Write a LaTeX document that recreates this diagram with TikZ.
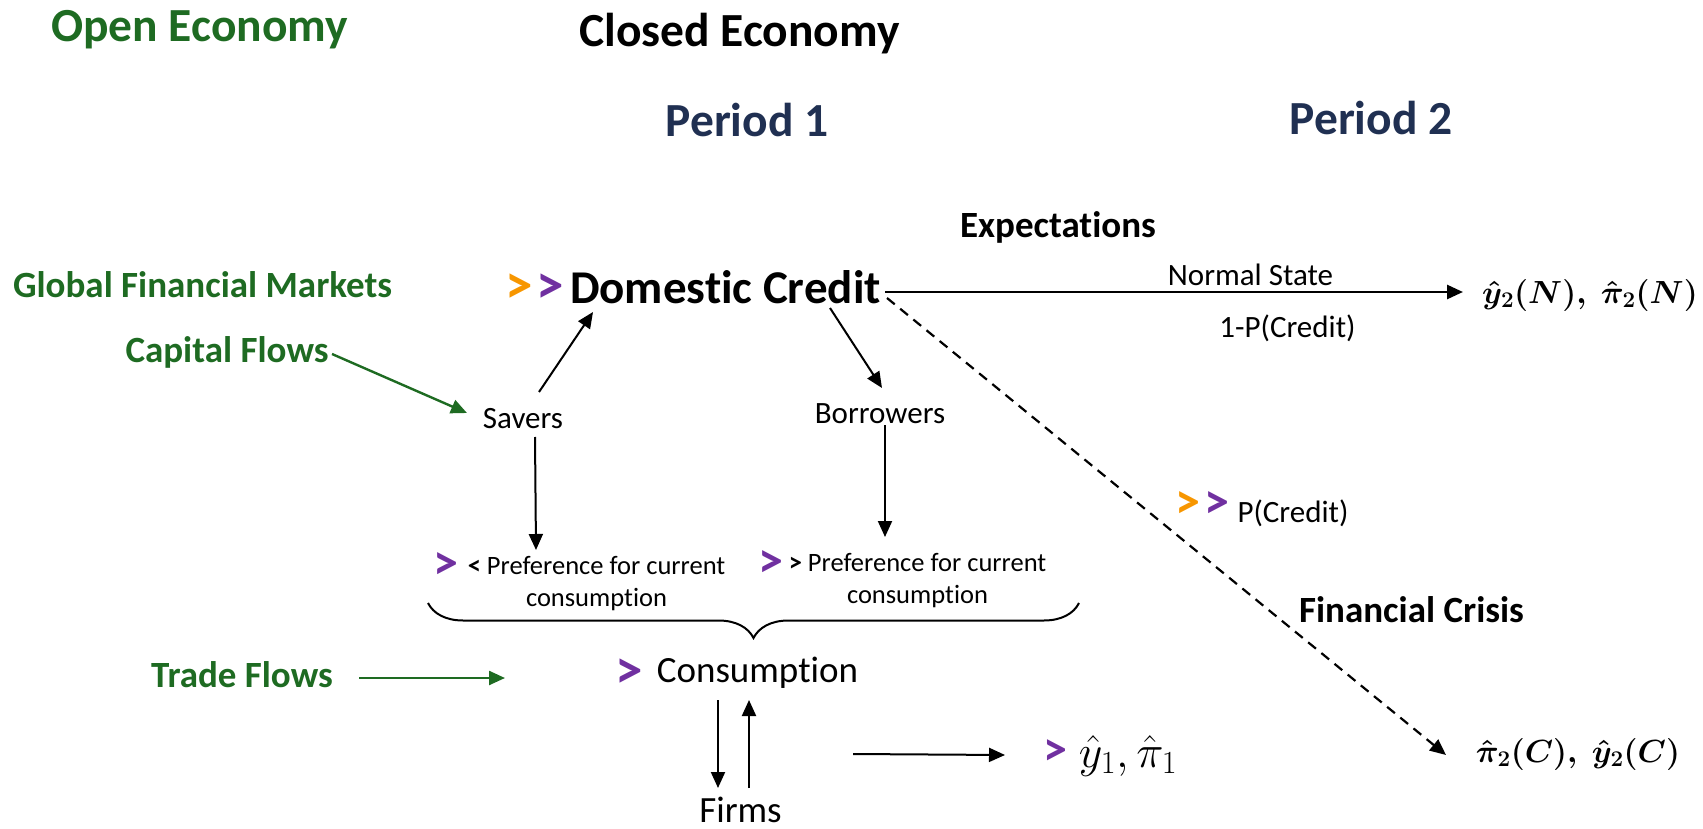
\RequirePackage{fix-cm}
\documentclass[tikz,border=0pt]{standalone}
\usepackage{amsmath}
\usepackage{amssymb}
\usepackage{fontspec}
\setmainfont{Carlito}[Ligatures=NoCommon]
\usepackage{tikz}
\usetikzlibrary{positioning,arrows.meta,decorations.pathreplacing}

\definecolor{openG}{RGB}{30,107,34}
\definecolor{perN}{RGB}{32,48,82}
\definecolor{chO}{RGB}{247,150,0}
\definecolor{chP}{RGB}{112,48,160}

\newcommand{\fsz}[1]{\fontsize{#1}{#1}\selectfont}

\tikzset{auto,
  every node/.style={inner sep=0pt, anchor=base},
  >={Triangle[length=16pt,width=14pt]},
  hd/.style={font=\fsz{47.5}\bfseries},
  ob/.style={font=\fsz{37}\bfseries, text=openG},
  bl/.style={font=\fsz{37}\bfseries},
  dcf/.style={font=\fsz{47}\bfseries},
  sm/.style={font=\fsz{31}},
  md/.style={font=\fsz{37}},
  pref/.style={font=\fontsize{26.5}{32}\selectfont, align=center},
  chev/.style={font=\fsz{#1}\bfseries},
  ar/.style={->, line width=2pt},
  gar/.style={->, line width=2.4pt, color=openG}
}

\begin{document}
\begin{tikzpicture}[x=1pt, y=-1pt]
             \useasboundingbox (0,0) rectangle (1703,829);

             \node (Open) [hd, text=openG] at (199.5,42) {Open Economy};
             \node (Closed) [hd] at (739.5,47) {Closed Economy};
             \node (P1) [hd, text=perN] at (747,137) {Period 1};
             \node (P2) [hd, text=perN] at (1371,135) {Period 2};
             \node (Exp) [bl] at (1058,238) {Expectations};

             \node (GFM) [ob] at (202.5,297) {Global Financial Markets};
             \node (CF) [ob] at (227,362) {Capital Flows};
             \node (TF) [ob] at (242,687) {Trade Flows};
             \coordinate (TFend) at (505,678);

             \node (DC) [dcf] at (725.5,303) {Domestic Credit};
             \node (DCo) [chev=55, text=chO] at (519,303) {>};
             \node (DCp) [chev=55, text=chP] at (550,303) {>};

             \node (S) [sm] at (523,428) {Savers};
             \node (B) [sm] at (880,423) {Borrowers};

             \node (PrefS) [pref] at (596.5,606) {{\bfseries <} Preference for current\\consumption};
             \node (PrefSc) [chev=50, text=chP] at (446,579) {>};
             \node (PrefB) [pref] at (917.5,603) {{\bfseries >} Preference for current\\consumption};
             \node (PrefBc) [chev=50, text=chP] at (770.5,577) {>};
             \coordinate (BrL) at (428,603);
             \coordinate (BrR) at (1079,603);

             \node (Cons) [md] at (757.5,682) {Consumption};
             \node (Consc) [chev=55, text=chP] at (629,688) {>};
             \node (Firms) [md] at (740.5,822) {Firms};
             \coordinate (Fout) at (853,754);
             \node (Y1c) [chev=48, text=chP] at (1055,765) {>};
             \node (Y1) [font=\fsz{46}] at (1128,767) {$\hat{y}_1,\hat{\pi}_1$};

             \node (NS) [sm] at (1250.5,285) {Normal State};
             \node (PN) [sm] at (1287.5,337) {1-P(Credit)};
             \node (YN) [font=\fsz{32}] at (1590,303) {$\boldsymbol{\hat{y}_2(N),\mkern4mu\hat{\pi}_2(N)}$};

             \node (PC) [sm] at (1293,522) {P(Credit)};
             \node (PCo) [chev=50, text=chO] at (1187.5,518) {>};
             \node (PCp) [chev=50, text=chP] at (1217,518) {>};
             \node (FC) [bl] at (1411.5,622) {Financial Crisis};
             \node (YC) [font=\fsz{32}] at (1578,762) {$\boldsymbol{\hat{\pi}_2(C),\mkern4mu\hat{y}_2(C)}$};

             \draw [gar] ([xshift=105pt,yshift=8pt]CF.base) to ([xshift=-56pt,yshift=15pt]S.base);
             \draw [ar] ([xshift=16pt,yshift=36pt]S.base) to ([xshift=-132.5pt,yshift=-9pt]DC.base);
             \draw [ar] ([xshift=104.5pt,yshift=-5pt]DC.base) to ([xshift=2pt,yshift=35pt]B.base);
             \draw [->, line width=2.7pt] ([xshift=159.5pt,yshift=11pt]DC.base) to ([xshift=-127pt,yshift=11pt]YN.base);
             \draw [->, line width=2.2pt, dash pattern=on 10pt off 7pt] ([xshift=161.5pt,yshift=5pt]DC.base) to ([xshift=-132pt,yshift=7pt]YC.base);

             \draw [ar] ([xshift=12pt,yshift=-9pt]S.base) to ([xshift=-60.5pt,yshift=56pt]PrefS.base);
             \draw [ar] ([xshift=5pt,yshift=-2pt]B.base) to ([xshift=-32.5pt,yshift=66pt]PrefB.base);
             \draw [line width=2pt, decorate, decoration={brace, mirror, amplitude=35pt}] (BrL) to (BrR);

             \draw [gar] ([xshift=117pt,yshift=9pt]TF.base) to (TFend);
             \draw [ar] ([xshift=-39.5pt,yshift=-18pt]Cons.base) to ([xshift=-22.5pt,yshift=34pt]Firms.base);
             \draw [ar] ([xshift=8.5pt,yshift=34pt]Firms.base) to ([xshift=-8.5pt,yshift=-18pt]Cons.base);
             \draw [ar] (Fout) to ([xshift=-50pt,yshift=10pt]Y1c.base);
\end{tikzpicture}
\end{document}
